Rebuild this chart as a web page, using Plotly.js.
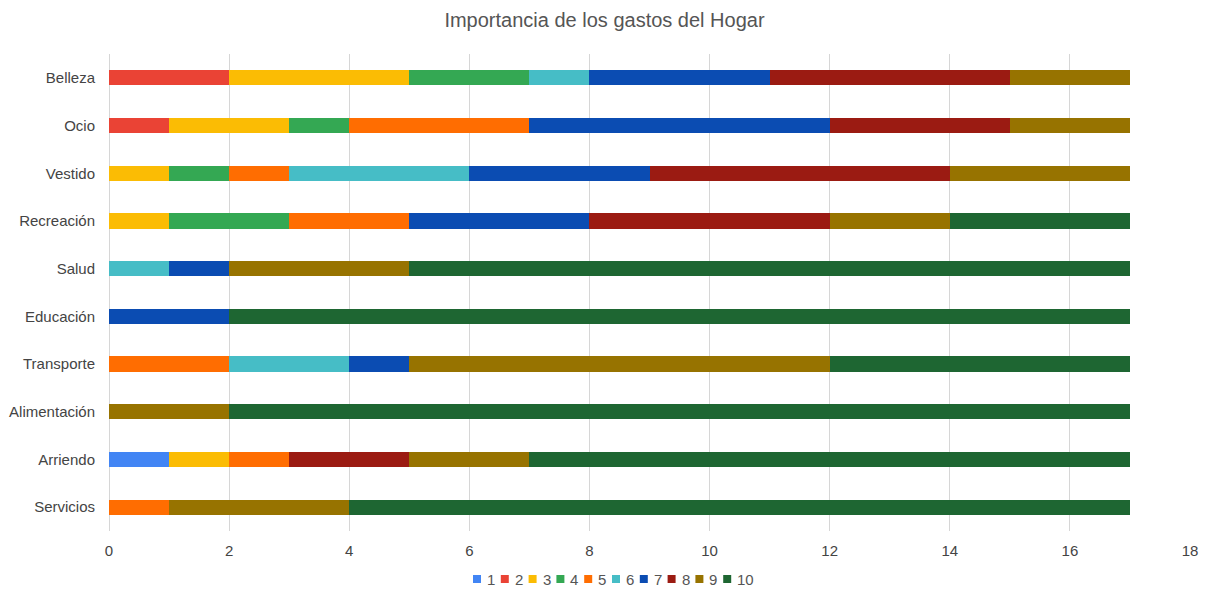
<!DOCTYPE html>
<html>
<head>
<meta charset="utf-8">
<script src="https://cdn.plot.ly/plotly-3.0.1.min.js"></script>
<style>html,body{margin:0;padding:0;background:#fff;}#chart{width:1209px;height:589px;}</style>
</head>
<body>
<div id="chart"></div>
<script>
// Categories (bottom to top)
var categories = ["Servicios","Arriendo","Alimentación","Transporte","Educación","Salud","Recreación","Vestido","Ocio","Belleza"];
var seriesNames = ["1","2","3","4","5","6","7","8","9","10"];
// Values per series, in category order above
var s1  = [0,1,0,0,0,0,0,0,0,0];
var s2  = [0,0,0,0,0,0,0,0,1,2];
var s3  = [0,1,0,0,0,0,1,1,2,3];
var s4  = [0,0,0,0,0,0,2,1,1,2];
var s5  = [1,1,0,2,0,0,2,1,3,0];
var s6  = [0,0,0,2,0,1,0,3,0,1];
var s7  = [0,0,0,1,2,1,3,3,5,3];
var s8  = [0,2,0,0,0,0,4,5,3,4];
var s9  = [3,2,2,7,0,3,2,3,2,2];
var s10 = [13,10,15,5,15,12,3,0,0,0];
var seriesValues = [s1,s2,s3,s4,s5,s6,s7,s8,s9,s10];
var colors = ["#4285F4","#EA4335","#FBBC04","#34A853","#FF6D01","#46BDC6","#0B4CB2","#9B1B12","#977300","#1E6632"];

var traces = seriesValues.map(function(v,i){
  return {type:"bar", orientation:"h", name:seriesNames[i], x:v, y:categories,
    marker:{color:colors[i], line:{width:0}}, hoverinfo:"x+name"};
});

// Legend drawn as compact items below the plot
var L = 109, R = 1190, T = 54, B = 531;
function px2x(p){ return (p - L)/(R - L); }
function py2y(p){ return (B - p)/(B - T); }
var shapes = [], annotations = [];
seriesNames.forEach(function(n,i){
  var x0 = 473 + i*27.8;
  shapes.push({type:"rect", xref:"paper", yref:"paper", x0:px2x(x0), x1:px2x(x0+8), y0:py2y(583), y1:py2y(575), fillcolor:colors[i], line:{width:0}});
  annotations.push({xref:"paper", yref:"paper", x:px2x(x0+12), y:py2y(579), xanchor:"left", yanchor:"middle", text:n, showarrow:false, font:{family:"Liberation Sans, Arial, sans-serif", size:15, color:"#555555"}});
});

var layout = {
  width:1209, height:589,
  barmode:"stack", bargap:0.68,
  margin:{l:L, r:1209-R, t:T, b:589-B, pad:0},
  paper_bgcolor:"#ffffff", plot_bgcolor:"#ffffff",
  font:{family:"Liberation Sans, Arial, sans-serif", size:15, color:"#444444"},
  title:{text:"Importancia de los gastos del Hogar", x:0.5, xref:"container", y:1-20/589, yref:"container", yanchor:"middle", font:{size:20, color:"#555555"}},
  xaxis:{range:[0,18], dtick:2, tick0:0, showgrid:true, gridcolor:"#d6d6d6", gridwidth:1, zeroline:true, zerolinecolor:"#d6d6d6", zerolinewidth:1, ticks:"", ticklabelstandoff:9, tickfont:{size:15, color:"#444444"}, showline:false, fixedrange:true},
  yaxis:{type:"category", categoryorder:"array", categoryarray:categories, range:[-0.5,9.5], showgrid:false, zeroline:false, ticks:"", ticklabelstandoff:13, tickfont:{size:15, color:"#444444"}, fixedrange:true},
  showlegend:false,
  shapes:shapes,
  annotations:annotations
};
Plotly.newPlot("chart", traces, layout, {displayModeBar:false, staticPlot:false});
</script>
</body>
</html>
